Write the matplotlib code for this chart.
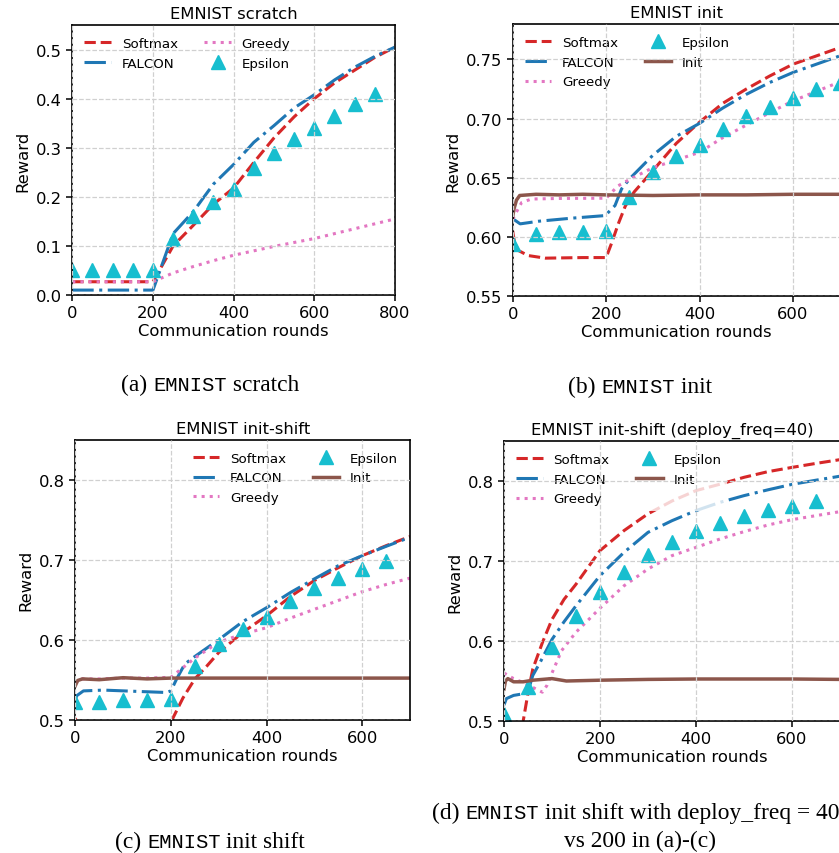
"""
EMNIST bandit reward curves -- four panels with LaTeX-style captions
"""
import matplotlib
matplotlib.use("Agg")
import matplotlib.pyplot as plt
from matplotlib.offsetbox import TextArea, HPacker, AnchoredOffsetbox

W, H = 839, 854
DPI = 100

# ── colours / styles ───────────────────────────────────────────────────────────
RED   = "#d62728"
BLUE  = "#1f77b4"
PINK  = "#e377c2"
CYAN  = "#17becf"
BROWN = "#8c564b"
LW = 2.2
MS = 9.5
FALCON_DASH = (7.0, 1.8, 1.0, 1.8)

plt.rcParams["font.family"] = "DejaVu Sans"
plt.rcParams["font.size"] = 11.8

# ── (a) EMNIST scratch ─────────────────────────────────────────────────────────
a_line_x  = [0, 200, 250, 300, 350, 400, 450, 500, 550, 600, 650, 700, 750, 800]
a_softmax = [0.027, 0.027, 0.10, 0.142, 0.185, 0.218, 0.27, 0.32, 0.363, 0.40, 0.432, 0.458, 0.484, 0.505]
a_falcon  = [0.01, 0.01, 0.125, 0.17, 0.226, 0.266, 0.311, 0.345, 0.381, 0.408, 0.438, 0.464, 0.486, 0.505]
a_greedy  = [0.027, 0.027, 0.045, 0.058, 0.07, 0.081, 0.09, 0.099, 0.107, 0.115, 0.125, 0.135, 0.145, 0.155]
a_eps_x   = [0, 50, 100, 150, 200, 250, 300, 350, 400, 450, 500, 550, 600, 650, 700, 750]
a_eps_y   = [0.05, 0.05, 0.05, 0.05, 0.05, 0.115, 0.16, 0.19, 0.215, 0.258, 0.29, 0.318, 0.34, 0.365, 0.39, 0.41]

# ── (b) EMNIST init ────────────────────────────────────────────────────────────
b_init_x    = [0, 3, 8, 15, 50, 100, 150, 200, 300, 400, 500, 600, 700]
b_init_y    = [0.617, 0.624, 0.631, 0.635, 0.636, 0.6355, 0.636, 0.6355, 0.635, 0.6355, 0.6355, 0.636, 0.636]
b_greedy_x  = [0, 8, 19, 40, 100, 200, 225, 250, 300, 350, 400, 450, 500, 550, 600, 650, 700]
b_greedy_y  = [0.615, 0.621, 0.629, 0.632, 0.6325, 0.6327, 0.643, 0.6485, 0.6585, 0.665, 0.6715, 0.684, 0.6945, 0.705, 0.715, 0.723, 0.731]
b_soft_x    = [0, 4, 12, 33, 70, 150, 200, 212, 226, 241, 260, 300, 350, 400, 450, 500, 550, 600, 650, 700]
b_soft_y    = [0.605, 0.595, 0.5885, 0.5842, 0.582, 0.5825, 0.5825, 0.595, 0.611, 0.626, 0.638, 0.656, 0.679, 0.697, 0.713, 0.725, 0.736, 0.746, 0.753, 0.760]
b_falcon_x  = [0, 5, 16, 55, 126, 198, 219, 233, 250, 300, 350, 400, 450, 500, 550, 600, 650, 700]
b_falcon_y  = [0.615, 0.614, 0.611, 0.6132, 0.6158, 0.618, 0.6265, 0.6405, 0.649, 0.669, 0.685, 0.696, 0.709, 0.7205, 0.7305, 0.739, 0.746, 0.753]
b_eps_x     = [0, 50, 100, 150, 200, 250, 300, 350, 400, 450, 500, 550, 600, 650, 700]
b_eps_y     = [0.594, 0.6024, 0.604, 0.604, 0.605, 0.634, 0.6545, 0.668, 0.678, 0.691, 0.7018, 0.710, 0.7176, 0.725, 0.730]

# ── (c) EMNIST init-shift ──────────────────────────────────────────────────────
c_init_x    = [0, 5, 15, 50, 100, 150, 200, 300, 400, 500, 600, 700]
c_init_y    = [0.5425, 0.549, 0.551, 0.550, 0.5525, 0.551, 0.552, 0.552, 0.552, 0.552, 0.552, 0.552]
c_greedy_x  = [0, 10, 50, 100, 150, 200, 250, 300, 350, 400, 450, 500, 550, 600, 650, 700]
c_greedy_y  = [0.545, 0.551, 0.551, 0.552, 0.552, 0.553, 0.577, 0.597, 0.607, 0.615, 0.627, 0.638, 0.649, 0.660, 0.669, 0.677]
c_soft_x    = [0, 8, 190, 225, 250, 275, 300, 350, 400, 450, 500, 550, 600, 650, 700]
c_soft_y    = [0.502, 0.485, 0.485, 0.527, 0.551, 0.567, 0.584, 0.609, 0.630, 0.654, 0.674, 0.690, 0.705, 0.7175, 0.729]
c_falcon_x  = [0, 3, 17, 59, 128, 191, 200, 212, 229, 250, 300, 350, 400, 450, 500, 550, 600, 650, 700]
c_falcon_y  = [0.525, 0.53, 0.536, 0.537, 0.5354, 0.534, 0.536, 0.551, 0.5696, 0.579, 0.600, 0.6225, 0.640, 0.659, 0.676, 0.6925, 0.705, 0.7167, 0.728]
c_eps_x     = [0, 50, 100, 150, 200, 250, 300, 350, 400, 450, 500, 550, 600, 650]
c_eps_y     = [0.5217, 0.5225, 0.5245, 0.5245, 0.526, 0.5675, 0.5946, 0.614, 0.629, 0.649, 0.6646, 0.677, 0.688, 0.699]

# ── (d) EMNIST init-shift, deploy_freq=40 ──────────────────────────────────────
d_init_x    = [0, 3, 8, 20, 40, 60, 100, 130, 200, 300, 400, 500, 600, 700]
d_init_y    = [0.54, 0.55, 0.553, 0.549, 0.549, 0.551, 0.553, 0.55, 0.551, 0.552, 0.5525, 0.5525, 0.5525, 0.552]
d_greedy_x  = [0, 20, 40, 60, 80, 90, 100, 120, 150, 200, 250, 300, 350, 400, 450, 500, 550, 600, 650, 700]
d_greedy_y  = [0.56, 0.553, 0.548, 0.542, 0.536, 0.545, 0.56, 0.588, 0.611, 0.641, 0.669, 0.69, 0.7067, 0.717, 0.7275, 0.7367, 0.745, 0.7517, 0.7567, 0.7617]
d_soft_x    = [0, 10, 30, 40, 50, 60, 80, 100, 125, 150, 200, 250, 300, 350, 400, 450, 500, 550, 600, 650, 700]
d_soft_y    = [0.502, 0.48, 0.47, 0.50, 0.535, 0.565, 0.598, 0.627, 0.652, 0.671, 0.713, 0.738, 0.759, 0.775, 0.788, 0.796, 0.8046, 0.8117, 0.817, 0.822, 0.8267]
d_falcon_x  = [0, 5, 20, 40, 50, 60, 75, 100, 125, 150, 200, 250, 300, 350, 400, 450, 500, 550, 600, 650, 700]
d_falcon_y  = [0.52, 0.528, 0.532, 0.534, 0.537, 0.557, 0.573, 0.602, 0.624, 0.644, 0.6817, 0.7108, 0.7358, 0.7504, 0.763, 0.7733, 0.7817, 0.789, 0.7958, 0.801, 0.806]
d_eps_x     = [0, 50, 100, 150, 200, 250, 300, 350, 400, 450, 500, 550, 600, 650]
d_eps_y     = [0.509, 0.543, 0.592, 0.6317, 0.6617, 0.6867, 0.7075, 0.724, 0.737, 0.7475, 0.7567, 0.7637, 0.769, 0.775]

fig = plt.figure(figsize=(W / DPI, H / DPI), dpi=DPI, facecolor="white")


def make_ax(left, top, right, bottom):
    """axes from pixel box (top-left origin)"""
    return fig.add_axes([left / W, 1 - bottom / H, (right - left) / W, (bottom - top) / H])


def style(ax, title, xlim, ylim, yticks, yfmt):
    ax.set_title(title, fontsize=11.8, pad=5)
    ax.set_xticks([t for t in (0, 200, 400, 600, 800) if t <= xlim[1]])
    ax.set_yticks(yticks)
    ax.set_yticklabels([yfmt.format(v) for v in yticks])
    ax.set_xlim(*xlim)
    ax.set_ylim(*ylim)
    ax.set_xlabel("Communication rounds", labelpad=2)
    ax.set_ylabel("Reward")
    ax.set_axisbelow(False)
    ax.grid(True, ls="--", color="#d0d0d0", lw=0.9)
    ax.tick_params(length=4, width=1.1)
    for sp in ax.spines.values():
        sp.set_linewidth(1.2)


def add_legend(ax, loc, framed):
    leg = ax.legend(loc=loc, ncol=2, fontsize=9.6, frameon=framed, framealpha=0.8,
                    edgecolor="none", facecolor="white", fancybox=False)
    leg.set_zorder(2.3)


# ── panel a ────────────────────────────────────────────────────────────────────
ax = make_ax(72.3, 26, 395, 296)
ax.plot(a_line_x, a_softmax, color=RED, ls="--", lw=LW, label="Softmax")
ax.plot(a_line_x, a_falcon, color=BLUE, dashes=FALCON_DASH, lw=LW, label="FALCON")
ax.plot(a_line_x, a_greedy, color=PINK, ls=":", lw=LW, label="Greedy")
ax.plot(a_eps_x, a_eps_y, color=CYAN, ls="none", marker="^", ms=MS, label="Epsilon")
style(ax, "EMNIST scratch", (0, 800), (0, 0.55), [0.0, 0.1, 0.2, 0.3, 0.4, 0.5], "{:.1f}")
add_legend(ax, "upper left", False)


def draw_init_panel(ax, sx, sy, fx, fy, gx, gy, ex, ey, ix, iy):
    ax.plot(sx, sy, color=RED, ls="--", lw=LW, label="Softmax")
    ax.plot(fx, fy, color=BLUE, dashes=FALCON_DASH, lw=LW, label="FALCON")
    ax.plot(gx, gy, color=PINK, ls=":", lw=LW, label="Greedy")
    ax.plot(ex, ey, color=CYAN, ls="none", marker="^", ms=MS, label="Epsilon")
    ax.plot(ix, iy, color=BROWN, ls="-", lw=2.5, label="Init")


# ── panel b ────────────────────────────────────────────────────────────────────
ax = make_ax(512.7, 25, 839.7, 297)
draw_init_panel(ax, b_soft_x, b_soft_y, b_falcon_x, b_falcon_y, b_greedy_x, b_greedy_y,
                b_eps_x, b_eps_y, b_init_x, b_init_y)
style(ax, "EMNIST init", (0, 700), (0.55, 0.78), [0.55, 0.60, 0.65, 0.70, 0.75], "{:.2f}")
add_legend(ax, "upper left", False)

# ── panel c ────────────────────────────────────────────────────────────────────
ax = make_ax(75.3, 440.7, 410, 720.7)
draw_init_panel(ax, c_soft_x, c_soft_y, c_falcon_x, c_falcon_y, c_greedy_x, c_greedy_y,
                c_eps_x, c_eps_y, c_init_x, c_init_y)
style(ax, "EMNIST init-shift", (0, 700), (0.5, 0.85), [0.5, 0.6, 0.7, 0.8], "{:.1f}")
add_legend(ax, "upper right", False)

# ── panel d ────────────────────────────────────────────────────────────────────
ax = make_ax(504, 442, 840, 722)
draw_init_panel(ax, d_soft_x, d_soft_y, d_falcon_x, d_falcon_y, d_greedy_x, d_greedy_y,
                d_eps_x, d_eps_y, d_init_x, d_init_y)
style(ax, "EMNIST init-shift (deploy_freq=40)", (0, 700), (0.5, 0.85), [0.5, 0.6, 0.7, 0.8], "{:.1f}")
add_legend(ax, "upper left", True)

# ── captions (serif text with typewriter dataset name) ─────────────────────────
SERIF = dict(family="Liberation Serif", size=16.9, color="black")
MONO = dict(family="Liberation Mono", size=14.8, color="black")


def caption(x, y, parts, loc="center"):
    boxes = [TextArea(s, textprops=(MONO if mono else SERIF)) for s, mono in parts]
    pack = HPacker(children=boxes, align="baseline", pad=0, sep=0)
    box = AnchoredOffsetbox(loc=loc, child=pack, bbox_to_anchor=(x / W, 1 - y / H),
                            bbox_transform=fig.transFigure, frameon=False, pad=0, borderpad=0)
    fig.add_artist(box)


caption(210, 385, [("(a) ", False), ("EMNIST", True), (" scratch", False)])
caption(640, 387, [("(b) ", False), ("EMNIST", True), (" init", False)])
caption(210, 842, [("(c) ", False), ("EMNIST", True), (" init shift", False)])
caption(431.7, 813, [("(d) ", False), ("EMNIST", True),
                     (" init shift with deploy_freq = 40", False)], loc="center left")
caption(640, 841, [("vs 200 in (a)-(c)", False)])

fig.savefig("out.png", dpi=DPI, facecolor="white")
